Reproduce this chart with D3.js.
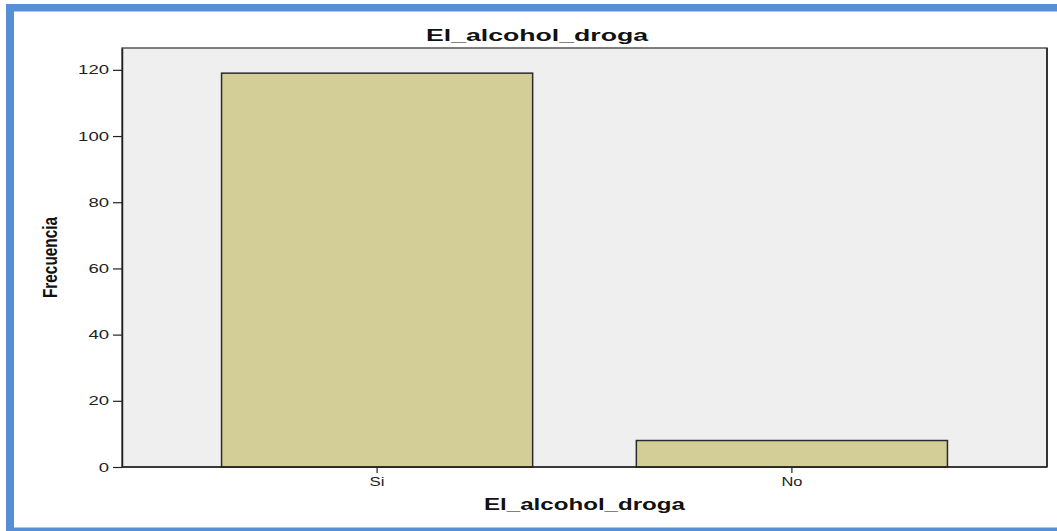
<!DOCTYPE html>
<html lang="es">
<head>
<meta charset="UTF-8">
<title>El_alcohol_droga</title>
<style>
  html, body { margin: 0; padding: 0; background: #fff; }
  svg { display: block; }
  .tick text { font-family: "Liberation Sans", Arial, sans-serif; font-size: 12.5px; fill: #222; }
</style>
</head>
<body>
<div id="chart"></div>
<script src="https://cdn.jsdelivr.net/npm/d3@7"></script>
<script>
  // data
  var categories = ["Si", "No"];
  var counts = [119, 8];
  var yTicks = [0, 20, 40, 60, 80, 100, 120];

  var W = 1057, H = 531;
  var margin = { top: 48, right: 10, bottom: 64, left: 122 };

  var svg = d3.select("#chart").append("svg")
    .attr("width", W)
    .attr("height", H);

  // blue frame around the picture (left, top, bottom)
  svg.append("rect").attr("x", 6).attr("y", 4).attr("width", W).attr("height", 7.5).attr("fill", "#568fd6");
  svg.append("rect").attr("x", 6).attr("y", 4).attr("width", 8).attr("height", H).attr("fill", "#568fd6");
  svg.append("rect").attr("x", 6).attr("y", 527.5).attr("width", W).attr("height", 4).attr("fill", "#568fd6");

  var x = d3.scaleBand()
    .domain(categories)
    .range([margin.left, 1047])
    .paddingInner(0.25)
    .paddingOuter(0.24);

  var y = d3.scaleLinear()
    .domain([0, 126.6])
    .range([467, margin.top]);

  // plot background
  svg.append("rect")
    .attr("x", margin.left)
    .attr("y", margin.top)
    .attr("width", 1047 - margin.left)
    .attr("height", 467 - margin.top)
    .attr("fill", "#efefef")
    .attr("stroke", "#555")
    .attr("stroke-width", 1.5);
  // darker right edge like the original
  svg.append("line")
    .attr("x1", 1047).attr("x2", 1047)
    .attr("y1", margin.top).attr("y2", 467)
    .attr("stroke", "#333").attr("stroke-width", 2);

  svg.selectAll(".bar")
    .data(counts)
    .join("rect")
    .attr("class", "bar")
    .attr("x", (d, i) => x(categories[i]))
    .attr("y", d => y(d))
    .attr("width", x.bandwidth())
    .attr("height", d => y(0) - y(d))
    .attr("fill", "#d3ce98")
    .attr("stroke", "#2a2a2a")
    .attr("stroke-width", 1.5);

  var yAxis = svg.append("g")
    .attr("transform", "translate(" + margin.left + ",0)")
    .call(d3.axisLeft(y).tickValues(yTicks).tickSize(9).tickSizeOuter(0).tickPadding(4));
  yAxis.select(".domain").attr("stroke", "#222").attr("stroke-width", 1.5);
  yAxis.selectAll(".tick line").attr("stroke", "#222").attr("stroke-width", 1.2);
  // SPSS draws its tick numbers wide
  yAxis.selectAll(".tick text")
    .attr("textLength", d => String(d).length * 10.3)
    .attr("lengthAdjust", "spacingAndGlyphs");

  var xAxis = svg.append("g")
    .attr("transform", "translate(0,467)")
    .call(d3.axisBottom(x).tickSize(6).tickPadding(4).tickSizeOuter(0));
  xAxis.select(".domain").attr("stroke", "#222").attr("stroke-width", 1.5)
    .attr("d", "M" + margin.left + ",0H1047");
  xAxis.selectAll(".tick line").attr("stroke", "#222").attr("stroke-width", 1.2);
  xAxis.selectAll(".tick text")
    .attr("textLength", d => d === "Si" ? 15 : 21)
    .attr("lengthAdjust", "spacingAndGlyphs");

  // title
  svg.append("text")
    .attr("x", 537)
    .attr("y", 41)
    .attr("text-anchor", "middle")
    .attr("textLength", 222)
    .attr("lengthAdjust", "spacingAndGlyphs")
    .style("font-family", "'Liberation Sans', Arial, sans-serif")
    .style("font-weight", "bold")
    .style("font-size", "17px")
    .attr("fill", "#111")
    .text("El_alcohol_droga");

  // x label
  svg.append("text")
    .attr("x", 584.5)
    .attr("y", 510)
    .attr("text-anchor", "middle")
    .attr("textLength", 201)
    .attr("lengthAdjust", "spacingAndGlyphs")
    .style("font-family", "'Liberation Sans', Arial, sans-serif")
    .style("font-weight", "bold")
    .style("font-size", "16px")
    .attr("fill", "#111")
    .text("El_alcohol_droga");

  // y label
  svg.append("text")
    .attr("transform", "translate(57,257.5) rotate(-90)")
    .attr("text-anchor", "middle")
    .attr("textLength", 81)
    .attr("lengthAdjust", "spacingAndGlyphs")
    .style("font-family", "'Liberation Sans Narrow', 'Liberation Sans', Arial, sans-serif")
    .style("font-weight", "bold")
    .style("font-size", "20px")
    .attr("fill", "#111")
    .text("Frecuencia");
</script>
</body>
</html>
